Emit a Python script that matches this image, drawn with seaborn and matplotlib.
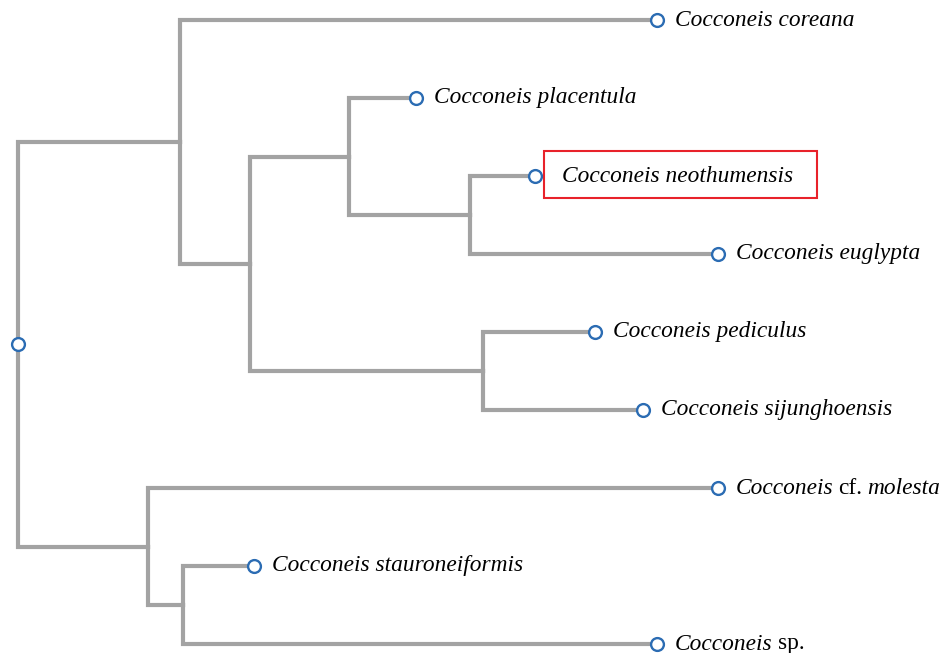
import numpy as np
import pandas as pd
import matplotlib.pyplot as plt
import matplotlib.patches as mpatches
import seaborn as sns

# leaves, top to bottom
leaf_names = ["coreana", "placentula", "neothumensis", "euglypta", "pediculus",
              "sijunghoensis", "molesta", "stauroneiformis", "sp"]
leaf_depth = [639, 398, 517, 700, 577, 625, 700, 236, 639]
leaf_labels = [
    [("Cocconeis coreana", "italic")],
    [("Cocconeis placentula", "italic")],
    [("Cocconeis neothumensis", "italic")],
    [("Cocconeis euglypta", "italic")],
    [("Cocconeis pediculus", "italic")],
    [("Cocconeis sijunghoensis", "italic")],
    [("Cocconeis", "italic"), ("cf.", "normal"), ("molesta", "italic")],
    [("Cocconeis stauroneiformis", "italic")],
    [("Cocconeis", "italic"), ("sp.", "normal")],
]
highlight = "neothumensis"

# internal nodes
node_names = ["root", "A", "B", "C", "D", "E", "L", "F"]
node_depth = [0, 162, 232, 331, 452, 465, 130, 165]
edge_parent = ["root", "root", "A", "A", "B", "B", "C", "C", "D", "D",
               "E", "E", "L", "L", "F", "F"]
edge_child = ["A", "L", "coreana", "B", "C", "E", "placentula", "D",
              "neothumensis", "euglypta", "pediculus", "sijunghoensis",
              "molesta", "F", "stauroneiformis", "sp"]

# positions
x = dict(zip(leaf_names, leaf_depth)) | dict(zip(node_names, node_depth))
y = {name: i for i, name in enumerate(leaf_names)}
children = {}
for p, c in zip(edge_parent, edge_child):
    children.setdefault(p, []).append(c)


def node_y(n):
    if n not in y:
        y[n] = np.mean([node_y(c) for c in children[n]])
    return y[n]


node_y("root")

rows = []
for k, (p, c) in enumerate(zip(edge_parent, edge_child)):
    for px, py in [(x[p], y[p]), (x[p], y[c]), (x[c], y[c])]:
        rows.append({"edge": k, "x": px, "y": py})
edges = pd.DataFrame(rows)

pts = pd.DataFrame({"x": [x[n] for n in leaf_names + ["root"]],
                    "y": [y[n] for n in leaf_names + ["root"]]})

sns.set_style("white")
fig = plt.figure(figsize=(9.53, 6.53), dpi=100)
ax = fig.add_axes([0, 0, 1, 1])

sns.lineplot(data=edges, x="x", y="y", units="edge", estimator=None, sort=False,
             color="#a3a3a3", linewidth=3, solid_joinstyle="miter",
             solid_capstyle="projecting", ax=ax, legend=False)
sns.scatterplot(data=pts, x="x", y="y", marker="o", s=85, facecolor="white",
                edgecolor="#2b6cb3", linewidth=1.7, zorder=5, ax=ax, legend=False)

ax.set_xlim(-18, 935)
ax.set_ylim((653 - 20) / 78, -20 / 78)
ax.axis("off")

fs = 16.8
texts = {}
for name, parts in zip(leaf_names, leaf_labels):
    prev = None
    for s, style in parts:
        if prev is None:
            dx = 19.5 if name == highlight else 13
            t = ax.annotate(s, xy=(x[name], y[name]), xytext=(dx, 0),
                            textcoords="offset points", va="center", ha="left",
                            fontsize=fs, fontstyle=style, family="Liberation Serif",
                            color="black")
            texts[name] = t
        else:
            t = ax.annotate(s, xy=(1, 0), xycoords=prev, xytext=(3.5, 0),
                            textcoords="offset points", va="bottom", ha="left",
                            fontsize=fs, fontstyle=style, family="Liberation Serif",
                            color="black")
        prev = t

# red frame around the highlighted species
fig.canvas.draw()
bb = texts[highlight].get_window_extent()
cy = (bb.y0 + bb.y1) / 2 + 1
inv = ax.transData.inverted()
(x0, y0), (x1, y1) = inv.transform([(bb.x0 - 18, cy - 23.5), (bb.x1 + 24, cy + 23.5)])
ax.add_patch(mpatches.Rectangle((x0, y0), x1 - x0, y1 - y0, fill=False,
                                edgecolor="#e8222a", linewidth=1.5, zorder=6))

fig.savefig("out.png", dpi=100)
